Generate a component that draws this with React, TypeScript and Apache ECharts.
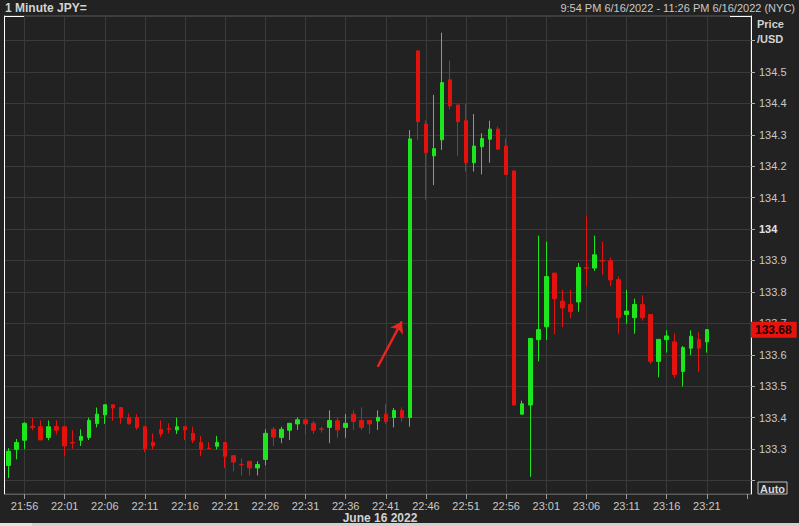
import React, { useEffect, useRef } from 'react';
import * as echarts from 'echarts';

// 1-minute categories 21:54 .. 23:26
const categories: string[] = [];
for (let m = 21 * 60 + 54; m <= 23 * 60 + 26; m++) {
  categories.push(`${Math.floor(m / 60)}:${String(m % 60).padStart(2, '0')}`);
}

const opens = [
  133.248, 133.299, 133.328, 133.372, 133.371, 133.337, 133.372, 133.371, 133.321, 133.328,
  133.337, 133.381, 133.409, 133.441, 133.432, 133.400, 133.400, 133.371, 133.321, 133.363,
  133.365, 133.361, 133.371, 133.350, 133.321, 133.303, 133.309, 133.321, 133.279, 133.251,
  133.261, 133.240, 133.267, 133.363, 133.337, 133.360, 133.380, 133.393, 133.382, 133.364,
  133.369, 133.390, 133.369, 133.411, 133.391, 133.391, 133.389, 133.411, 133.400, 133.423,
  133.400, 134.567, 134.334, 134.233, 134.284, 134.475, 134.395, 134.345, 134.211, 134.262,
  134.286, 134.318, 134.264, 134.185, 133.411, 133.440, 133.648, 133.689, 133.860, 133.771,
  133.760, 133.768, 133.877, 133.876, 133.900, 133.899, 133.839, 133.728, 133.718, 133.760,
  133.728, 133.579, 133.648, 133.641, 133.547, 133.621, 133.649, 133.641,
];
const closes = [
  133.293, 133.321, 133.382, 133.369, 133.329, 133.371, 133.360, 133.310, 133.319, 133.340,
  133.391, 133.411, 133.441, 133.431, 133.400, 133.380, 133.368, 133.301, 133.310, 133.348,
  133.363, 133.371, 133.361, 133.328, 133.299, 133.302, 133.321, 133.277, 133.259, 133.250,
  133.240, 133.251, 133.350, 133.338, 133.363, 133.382, 133.393, 133.380, 133.360, 133.363,
  133.391, 133.361, 133.382, 133.388, 133.369, 133.380, 133.401, 133.388, 133.423, 133.400,
  134.287, 134.342, 134.243, 134.256, 134.466, 134.392, 134.342, 134.211, 134.264, 134.288,
  134.318, 134.254, 134.174, 133.440, 133.444, 133.652, 133.680, 133.849, 133.778, 133.749,
  133.737, 133.878, 133.875, 133.918, 133.898, 133.838, 133.718, 133.739, 133.760, 133.718,
  133.579, 133.649, 133.660, 133.537, 133.623, 133.659, 133.621, 133.680,
];
const lows = [
  133.208, 133.267, 133.299, 133.360, 133.329, 133.328, 133.346, 133.277, 133.301, 133.310,
  133.329, 133.369, 133.380, 133.390, 133.380, 133.380, 133.361, 133.290, 133.299, 133.338,
  133.350, 133.348, 133.329, 133.319, 133.277, 133.301, 133.299, 133.240, 133.229, 133.216,
  133.216, 133.216, 133.248, 133.310, 133.319, 133.329, 133.361, 133.346, 133.348, 133.352,
  133.319, 133.336, 133.336, 133.361, 133.361, 133.348, 133.361, 133.380, 133.369, 133.388,
  133.371, 134.284, 134.093, 134.140, 134.252, 134.381, 134.233, 134.183, 134.183, 134.174,
  134.211, 134.254, 134.174, 133.440, 133.411, 133.212, 133.579, 133.647, 133.665, 133.688,
  133.716, 133.737, 133.818, 133.867, 133.855, 133.818, 133.667, 133.699, 133.667, 133.709,
  133.571, 133.528, 133.607, 133.526, 133.499, 133.599, 133.546, 133.607,
];
const highs = [
  133.303, 133.332, 133.385, 133.400, 133.391, 133.391, 133.391, 133.373, 133.360, 133.363,
  133.400, 133.432, 133.442, 133.442, 133.433, 133.413, 133.411, 133.373, 133.350, 133.391,
  133.382, 133.400, 133.373, 133.371, 133.342, 133.322, 133.342, 133.322, 133.280, 133.271,
  133.262, 133.261, 133.363, 133.370, 133.371, 133.383, 133.401, 133.401, 133.390, 133.371,
  133.423, 133.401, 133.411, 133.423, 133.433, 133.392, 133.423, 133.443, 133.431, 133.433,
  134.315, 134.568, 134.346, 134.427, 134.625, 134.536, 134.396, 134.398, 134.366, 134.305,
  134.345, 134.326, 134.289, 134.186, 133.454, 133.653, 133.979, 133.960, 133.861, 133.807,
  133.807, 133.892, 134.042, 133.979, 133.960, 133.909, 133.849, 133.807, 133.779, 133.789,
  133.729, 133.650, 133.678, 133.668, 133.628, 133.678, 133.671, 133.681,
];

const yTickValues = [133.2, 133.3, 133.4, 133.5, 133.6, 133.7, 133.8, 133.9, 134.0, 134.1, 134.2, 134.3, 134.4, 134.5, 134.6];
const yLabelValues = [133.3, 133.4, 133.5, 133.6, 133.7, 133.8, 133.9, 134.0, 134.1, 134.2, 134.3, 134.4, 134.5];
const lastPrice = 133.68;
const arrowFrom = ['22:40', 133.562];
const arrowTo = ['22:43', 133.706];

const Y_MIN = 133.157;
const Y_MAX = 134.678;

const FONT = "'Liberation Sans', Arial, sans-serif";
const GREEN = '#1ee61e';
const RED = '#e3120e';
const BG = '#222222';
const GRIDC = '#3a3a3a';
const TXT = '#c8c8c8';

const L = 4.5, T = 16, R = 751, B = 494;

const isLabelIdx = (i: number) => (i - 2) % 5 === 0;

export default function App() {
  const ref = useRef<HTMLDivElement>(null);
  useEffect(() => {
    document.body.style.margin = '0';
    document.body.style.background = BG;
    const chart = echarts.init(ref.current!, null, { renderer: 'svg' });
    const data = opens.map((o, i) => [o, closes[i], lows[i], highs[i]]);
    chart.setOption({
      animation: false,
      backgroundColor: BG,
      grid: {
        left: L, top: T, width: R - L, height: B - T,
        show: true, borderColor: '#5a5a5a', borderWidth: 1, backgroundColor: 'transparent',
      },
      xAxis: {
        type: 'category',
        data: categories,
        boundaryGap: true,
        axisLine: { show: true, lineStyle: { color: '#5a5a5a' } },
        axisTick: { show: true, interval: (i: number) => isLabelIdx(i), alignWithLabel: true, length: 5, lineStyle: { color: '#9a9a9a' } },
        axisLabel: {
          interval: (i: number) => isLabelIdx(i) && i < categories.length - 2,
          color: TXT, fontSize: 11, fontFamily: FONT, margin: 6,
        },
        splitLine: {
          show: true,
          interval: (i: number) => isLabelIdx(i) && i < categories.length - 2,
          alignWithLabel: true,
          lineStyle: { color: GRIDC, width: 1 },
        },
      },
      yAxis: [
        {
          type: 'value', position: 'right', min: Y_MIN, max: Y_MAX,
          axisLine: { show: true, lineStyle: { color: '#ffffff' } },
          axisTick: { show: true, customValues: yTickValues, length: 4, lineStyle: { color: '#b0b0b0' } },
          axisLabel: {
            customValues: yLabelValues,
            color: TXT, fontSize: 11, fontFamily: FONT, margin: 8,
            formatter: (v: number) => {
              const s = String(Math.round(v * 10) / 10);
              return s === '134' ? `{b|${s}}` : s;
            },
            rich: { b: { fontWeight: 'bold', color: '#e2e2e2', fontSize: 11, fontFamily: FONT } },
          },
          splitLine: { show: true, lineStyle: { color: GRIDC, width: 1 } },
        },
        {
          type: 'value', position: 'left', min: Y_MIN, max: Y_MAX,
          axisLine: { show: true, lineStyle: { color: '#ffffff' } },
          axisTick: { show: false }, axisLabel: { show: false }, splitLine: { show: false },
        },
      ],
      series: [
        {
          type: 'candlestick',
          data,
          barWidth: 4,
          itemStyle: { color: GREEN, color0: RED, borderColor: GREEN, borderColor0: RED, borderWidth: 1 },
          markLine: {
            silent: true,
            animation: false,
            symbol: ['none', 'arrow'],
            symbolSize: 11,
            z: 10,
            data: [
              {
                yAxis: lastPrice,
                symbol: 'none',
                lineStyle: { color: 'rgba(0,0,0,0)', width: 0 },
                label: {
                  show: true, position: 'end', distance: 0,
                  formatter: lastPrice.toFixed(2),
                  backgroundColor: '#e8130c', color: '#200000',
                  fontWeight: 'bold', fontSize: 12, fontFamily: FONT,
                  padding: [2, 5, 1, 4], lineHeight: 13,
                },
              },
              [
                { coord: arrowFrom, symbol: 'none' },
                { coord: arrowTo, symbol: 'arrow' },
              ],
            ],
            lineStyle: { color: '#e8261e', width: 2.5, type: 'solid' },
            label: { show: false },
          },
        },
      ],
      graphic: [
        { type: 'text', x: 5, y: 7.5, style: { text: '1 Minute JPY=', fill: '#d2d2d2', fontSize: 12, fontWeight: 'bold', fontFamily: FONT, verticalAlign: 'middle', textVerticalAlign: 'middle' } },
        { type: 'text', x: 795, y: 7.5, style: { text: '9:54 PM 6/16/2022 - 11:26 PM 6/16/2022 (NYC)', fill: TXT, fontSize: 11, fontFamily: FONT, align: 'right', textAlign: 'right', verticalAlign: 'middle', textVerticalAlign: 'middle' } },
        { type: 'text', x: 757, y: 24, style: { text: 'Price', fill: '#d2d2d2', fontSize: 11, fontWeight: 'bold', fontFamily: FONT, verticalAlign: 'middle', textVerticalAlign: 'middle' } },
        { type: 'text', x: 757, y: 39, style: { text: '/USD', fill: '#d2d2d2', fontSize: 11, fontWeight: 'bold', fontFamily: FONT, verticalAlign: 'middle', textVerticalAlign: 'middle' } },
        { type: 'text', x: 758, y: 482, style: { text: 'Auto', fill: '#d8d8d8', fontSize: 11, fontWeight: 'bold', fontFamily: FONT, verticalAlign: 'top', textVerticalAlign: 'top', borderColor: '#c0c0c0', borderWidth: 1, padding: [1, 2, 0, 2] } },
        { type: 'text', x: 380, y: 517.5, style: { text: 'June 16 2022', fill: '#d2d2d2', fontSize: 12, fontWeight: 'bold', fontFamily: FONT, align: 'center', textAlign: 'center', verticalAlign: 'middle', textVerticalAlign: 'middle' } },
        { type: 'rect', shape: { x: 0, y: 523, width: 799, height: 3 }, style: { fill: '#d0d0d0' } },
        { type: 'rect', shape: { x: 0, y: 523, width: 32, height: 3 }, style: { fill: '#e2e2e2' } },
        { type: 'line', shape: { x1: L, y1: T + 0.5, x2: 25, y2: T + 0.5 }, style: { stroke: '#ffffff', lineWidth: 1 } },
        { type: 'line', shape: { x1: L, y1: B + 0.5, x2: 25, y2: B + 0.5 }, style: { stroke: '#ffffff', lineWidth: 1 } },
        { type: 'line', shape: { x1: 730, y1: T + 0.5, x2: R, y2: T + 0.5 }, style: { stroke: '#ffffff', lineWidth: 1 } },
        { type: 'line', shape: { x1: 731, y1: B + 0.5, x2: R, y2: B + 0.5 }, style: { stroke: '#ffffff', lineWidth: 1 } },
      ],
    });
    return () => chart.dispose();
  }, []);
  return <div ref={ref} style={{ width: 799, height: 526, background: BG }} />;
}
